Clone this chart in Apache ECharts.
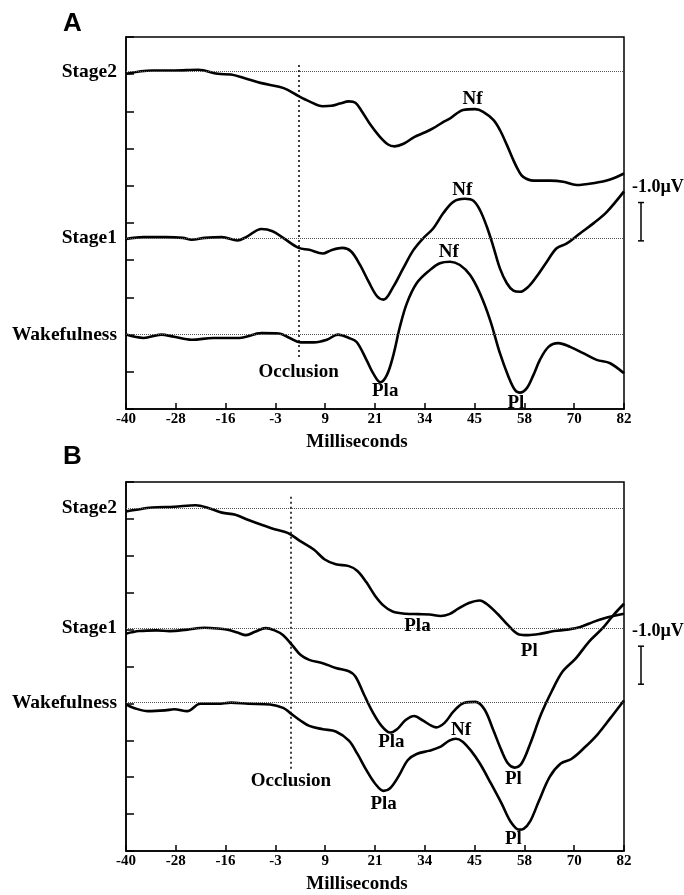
<!DOCTYPE html>
<html>
<head>
<meta charset="utf-8">
<script src="https://cdn.jsdelivr.net/npm/echarts@6/dist/echarts.min.js"></script>
<style>
html,body{margin:0;padding:0;background:#fff;}
#chart{width:684px;height:895px;}
</style>
</head>
<body>
<div id="chart"></div>
<script>
// ---------- data ----------
const X_MIN = -40;           // ms at left edge
const X_SPAN = 122;          // ms range
const X_STEP = 12.2;         // tick spacing (ms)
const TICK_LABELS = ['-40','-28','-16','-3','9','21','34','45','58','70','82'];
const STAGE_NAMES = ['Stage2','Stage1','Wakefulness'];

// Panel A traces: [ms, plotted amplitude (µV, offset)]
const A_STAGE2 = [[-40,9.01],[-33.6,9.10],[-28.2,9.10],[-22.3,9.12],[-17.5,9.01],[-14.3,8.99],[-11.1,8.90],[-6.8,8.76],[-2.5,8.66],[-0.4,8.58],[2.3,8.41],[4.9,8.27],[8.2,8.14],[10.3,8.15],[12.4,8.21],[14.6,8.27],[16.2,8.23],[17.8,8.00],[19.9,7.64],[22.1,7.33],[24.2,7.11],[25.8,7.06],[28.0,7.13],[30.6,7.31],[33.3,7.44],[35.3,7.55],[37.5,7.70],[39.4,7.81],[42.6,8.04],[45.5,8.06],[47.5,7.99],[50.0,7.77],[51.6,7.50],[53.3,7.10],[54.9,6.69],[56.1,6.42],[57.3,6.24],[59.8,6.14],[63.9,6.14],[67.1,6.11],[70.4,6.02],[74.5,6.07],[78.6,6.17],[82,6.33]];
const A_STAGE1 = [[-40,4.57],[-35.7,4.62],[-30.4,4.62],[-26.1,4.60],[-23.9,4.55],[-20.7,4.60],[-16.5,4.62],[-12.7,4.53],[-10.6,4.62],[-6.8,4.84],[-4.1,4.78],[-1.5,4.60],[2.3,4.33],[4.9,4.28],[8.2,4.18],[10.3,4.27],[13.0,4.33],[15.1,4.24],[17.3,3.88],[19.4,3.43],[21.5,3.03],[23.1,2.94],[25.5,3.29],[27.9,3.78],[30.4,4.27],[32.8,4.59],[35.3,4.86],[37.7,5.26],[40.2,5.57],[43.0,5.65],[45.1,5.60],[46.7,5.35],[48.4,4.90],[50.0,4.36],[51.6,3.78],[53.3,3.38],[54.9,3.18],[56.5,3.15],[58.6,3.29],[60.6,3.56],[63.1,3.96],[65.5,4.32],[68.0,4.45],[71.2,4.72],[74.5,4.99],[77.8,5.30],[82,5.85]];
const A_WAKE = [[-40,2.00],[-35.7,1.91],[-31.4,2.00],[-28.2,1.94],[-23.9,1.86],[-18.6,1.91],[-12.2,1.91],[-6.8,2.04],[-2.5,2.03],[0.1,1.91],[2.8,1.79],[6.0,1.79],[9.2,1.86],[11.9,2.00],[14.6,1.91],[16.5,1.80],[19.0,1.30],[20.6,0.95],[22.3,0.72],[23.9,0.91],[25.5,1.45],[27.1,2.21],[28.8,2.84],[31.2,3.38],[34.5,3.74],[36.9,3.92],[39.4,3.96],[41.8,3.87],[44.3,3.60],[46.7,3.11],[49.2,2.39],[51.6,1.50],[53.7,0.87],[55.3,0.51],[56.5,0.44],[58.2,0.56],[59.8,0.91],[61.4,1.32],[63.5,1.67],[65.9,1.77],[68.8,1.67],[72.0,1.50],[75.3,1.32],[78.6,1.23],[82,0.96]];

// Panel B traces
const B_STAGE2 = [[-40,9.20],[-37.9,9.24],[-33.6,9.31],[-28.2,9.33],[-22.9,9.37],[-19.7,9.29],[-16.5,9.17],[-13.2,9.11],[-10.0,8.97],[-6.8,8.84],[-3.6,8.72],[-0.4,8.62],[2.8,8.39],[6.0,8.17],[8.7,7.90],[11.4,7.77],[14.6,7.72],[16.7,7.59],[18.9,7.28],[21.0,6.92],[23.1,6.65],[25.3,6.49],[28.5,6.43],[31.7,6.42],[34.4,6.41],[37.1,6.37],[39.2,6.42],[41.3,6.56],[44.0,6.72],[46.7,6.79],[48.3,6.70],[51.0,6.43],[53.6,6.12],[56.3,5.87],[58.5,5.85],[61.7,5.89],[64.9,5.96],[68.1,6.00],[71.3,6.07],[74.5,6.21],[77.2,6.31],[79.9,6.38],[82,6.43]];
const B_STAGE1 = [[-40,5.89],[-36.8,5.96],[-32.5,5.98],[-29.3,5.96],[-25.0,6.00],[-20.7,6.05],[-17.5,6.03],[-15.4,6.00],[-12.7,5.92],[-10.6,5.85],[-8.4,5.94],[-5.8,6.04],[-3.6,5.98],[-1.5,5.85],[0.7,5.58],[2.8,5.31],[4.9,5.18],[8.2,5.09],[11.4,4.96],[14.6,4.87],[16.2,4.73],[18.3,4.24],[20.5,3.75],[22.6,3.39],[24.7,3.21],[26.4,3.30],[28.5,3.55],[30.6,3.66],[32.8,3.53],[34.9,3.39],[36.0,3.35],[38.1,3.48],[40.3,3.79],[42.9,4.02],[45.6,4.04],[47.8,3.84],[49.9,3.30],[52.0,2.72],[53.6,2.37],[55.2,2.26],[56.9,2.37],[59.0,2.90],[61.7,3.71],[64.3,4.33],[67.0,4.87],[70.2,5.22],[73.4,5.67],[76.7,6.03],[79.3,6.38],[82,6.70]];
const B_WAKE = [[-40,3.97],[-37.9,3.87],[-34.6,3.79],[-30.4,3.81],[-28.2,3.84],[-25.0,3.79],[-21.8,3.99],[-17.5,3.99],[-14.3,4.02],[-10.0,3.99],[-4.7,3.97],[-1.5,3.88],[0.1,3.75],[2.8,3.53],[4.9,3.39],[8.2,3.30],[11.4,3.24],[14.6,2.99],[16.7,2.63],[18.9,2.19],[21.0,1.83],[23.1,1.63],[24.7,1.70],[26.9,2.05],[29.0,2.46],[31.2,2.63],[34.4,2.72],[37.1,2.83],[39.2,2.99],[40.8,3.04],[42.4,2.97],[44.5,2.72],[46.7,2.37],[49.4,1.83],[52.0,1.29],[54.2,0.80],[56.3,0.58],[57.4,0.60],[59.0,0.80],[61.1,1.34],[63.8,2.01],[66.5,2.37],[69.2,2.50],[72.4,2.81],[75.6,3.17],[78.8,3.62],[82,4.08]];

// baselines (Stage2, Stage1, Wakefulness)
const A_BASELINES = [9.07, 4.6, 2.0];
const B_BASELINES = [9.3, 6.04, 4.02];

// occlusion markers: [ms, top, bottom]
const A_OCCLUSION = [2.3, 9.25, 1.32];
const B_OCCLUSION = [0.4, 9.6, 2.23];

// component labels: [text, ms, amplitude]
const A_PEAKS = [['Nf',44.9,8.33],['Nf',42.4,5.89],['Nf',39.1,4.23],['Pla',23.5,0.47],['Pl',55.5,0.17]];
const B_PEAKS = [['Pla',31.4,6.10],['Pl',58.8,5.42],['Pla',25.0,2.95],['Nf',42.1,3.29],['Pl',54.9,1.95],['Pla',23.1,1.28],['Pl',54.9,0.31]];

// scale bar (µV)
const SCALE_LABEL = '-1.0\u00b5V';
const SCALE_BAR = [4.52, 5.55];
const SCALE_TEXT_Y = 5.95;

// ---------- chart ----------
const SERIF = '"Liberation Serif","Times New Roman",serif';
const chart = echarts.init(document.getElementById('chart'), null, {renderer:'canvas'});

const toXY = pts => pts.map(p => [p[0] - X_MIN, p[1]]);
const txt = (size) => ({fontFamily: SERIF, fontWeight:'bold', fontSize:size, color:'#000'});

function panel(idx, traces, baselines, occl, peaks) {
  return traces.map((tr, k) => {
    const mlData = [{
      yAxis: baselines[k],
      label: Object.assign({show:true, position:'start', distance:9, formatter: STAGE_NAMES[k]}, txt(19.5)),
      lineStyle: {type:'dotted', color:'#555', width:1}
    }];
    if (k === 0) {
      mlData.push([
        {coord:[occl[0] - X_MIN, occl[1]],
         lineStyle:{type:[2,3], color:'#000', width:1.5},
         label: Object.assign({show:true, position:'end', distance:3, formatter:'Occlusion'}, txt(19))},
        {coord:[occl[0] - X_MIN, occl[2]]}
      ]);
    }
    const s = {
      type:'line', xAxisIndex: idx, yAxisIndex: idx,
      data: toXY(tr), showSymbol:false, symbol:'none', smooth:0.35,
      lineStyle:{color:'#000', width:2.6},
      z: 3,
      markLine:{symbol:'none', silent:true, animation:false, data: mlData}
    };
    if (k === 0) {
      s.markPoint = {
        symbol:'circle', symbolSize:1, silent:true, animation:false,
        itemStyle:{color:'rgba(0,0,0,0)'},
        label: Object.assign({show:true, position:'inside', formatter:'{b}'}, txt(19)),
        data: peaks.map(p => ({name:p[0], coord:[p[1] - X_MIN, p[2]]}))
      };
    }
    return s;
  });
}

const axisLineStyle = {color:'#000', width:1.5};
function xAxis(i) {
  return {
    gridIndex:i, type:'value', min:0, max:X_SPAN, interval:X_STEP,
    axisLine:{lineStyle:axisLineStyle},
    axisTick:{inside:true, length:6, lineStyle:axisLineStyle},
    axisLabel: Object.assign({margin:3, formatter: v => TICK_LABELS[Math.round(v / X_STEP)]}, txt(15)),
    splitLine:{show:false},
    name:'Milliseconds', nameLocation:'middle', nameGap:24,
    nameTextStyle: Object.assign({padding:[0,36,0,0]}, txt(19))
  };
}
function yAxis(i) {
  return {
    gridIndex:i, type:'value', min:0, max:10, interval:1,
    axisLine:{show:true, lineStyle:axisLineStyle},
    axisTick:{show:true, inside:true, length:8, lineStyle:axisLineStyle},
    axisLabel:{show:false}, splitLine:{show:false}
  };
}

chart.setOption({
  animation:false,
  backgroundColor:'#fff',
  title:[
    {text:'A', left:63, top:11, padding:0, textStyle:{fontFamily:'"Liberation Sans",Arial,sans-serif', fontWeight:'bold', fontSize:26, color:'#000'}},
    {text:'B', left:63, top:444, padding:0, textStyle:{fontFamily:'"Liberation Sans",Arial,sans-serif', fontWeight:'bold', fontSize:26, color:'#000'}}
  ],
  grid:[
    {left:126, right:60, top:37, height:372, show:true, borderColor:'#000', borderWidth:1.5, backgroundColor:'transparent'},
    {left:126, right:60, top:482, height:373, show:true, borderColor:'#000', borderWidth:1.5, backgroundColor:'transparent'}
  ],
  xAxis:[xAxis(0), xAxis(1)],
  yAxis:[yAxis(0), yAxis(1)],
  series: [].concat(
    panel(0, [A_STAGE2, A_STAGE1, A_WAKE], A_BASELINES, A_OCCLUSION, A_PEAKS),
    panel(1, [B_STAGE2, B_STAGE1, B_WAKE], B_BASELINES, B_OCCLUSION, B_PEAKS)
  )
});

// scale bars, positioned through the axes
const graphics = [];
[0,1].forEach(g => {
  const pTop = chart.convertToPixel({gridIndex:g}, [X_SPAN, SCALE_BAR[1]]);
  const pBot = chart.convertToPixel({gridIndex:g}, [X_SPAN, SCALE_BAR[0]]);
  const pTxt = chart.convertToPixel({gridIndex:g}, [X_SPAN, SCALE_TEXT_Y]);
  const x = pTop[0] + 17;
  const st = {stroke:'#000', lineWidth:1.5};
  graphics.push({type:'line', shape:{x1:x, y1:pTop[1], x2:x, y2:pBot[1]}, style:st, silent:true});
  graphics.push({type:'line', shape:{x1:x-3, y1:pTop[1], x2:x+3, y2:pTop[1]}, style:st, silent:true});
  graphics.push({type:'line', shape:{x1:x-3, y1:pBot[1], x2:x+3, y2:pBot[1]}, style:st, silent:true});
  graphics.push({type:'text', x: pTop[0] + 8, y: pTxt[1], silent:true,
    style:{text:SCALE_LABEL, font:'bold 18px ' + SERIF, fill:'#000', align:'left', verticalAlign:'middle'}});
});
chart.setOption({graphic: graphics});
</script>
</body>
</html>
